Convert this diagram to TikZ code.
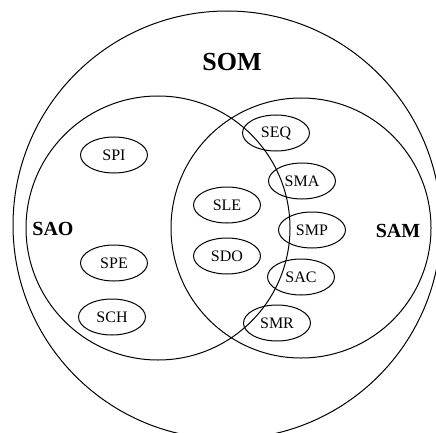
\documentclass[tikz,border=0pt]{standalone}
\usepackage{fontspec}
\setmainfont{Liberation Serif}
\usetikzlibrary{shapes}
\usetikzlibrary{positioning}
\tikzstyle{area} = [circle, draw, line width=1pt, inner sep=0pt]
\tikzstyle{unit} = [ellipse, draw, line width=1pt, inner sep=0pt,
        minimum width=67pt, minimum height=36pt, font={\fontsize{16}{16}\selectfont}]
\tikzstyle{setname} = [font={\bfseries\fontsize{20}{20}\selectfont}]

\begin{document}
\begin{tikzpicture}[x=1pt, y=-1pt]
            \useasboundingbox (0,0) rectangle (436,433);
            % sets
            \node [area, minimum size=428pt] (som) at (227,225) {};
            \node [area, minimum size=264pt] (sao) at (158,228) {};
            \node [area, minimum size=260pt] (sam) at (301,228) {};
            \node [setname, font={\bfseries\fontsize{26}{26}\selectfont}] (somname) at (232,62) {SOM};
            \node [setname] (saoname) at (53,229) {SAO};
            \node [setname] (samname) at (398,231) {SAM};
            % SAO only
            \node [unit] (spi) at (114,155) {SPI};
            \node [unit] (spe) at (114,263) {SPE};
            \node [unit] (sch) at (112,317) {SCH};
            % both
            \node [unit] (sle) at (227,205) {SLE};
            \node [unit, below=14pt of sle] (sdo) {SDO};
            % on the SAO border
            \node [unit] (seq) at (276,133) {SEQ};
            \node [unit] (sma) at (302,181) {SMA};
            \node [unit] (smp) at (312,230) {SMP};
            \node [unit] (sac) at (301,277) {SAC};
            \node [unit] (smr) at (277,323) {SMR};
        \end{tikzpicture}
\end{document}
